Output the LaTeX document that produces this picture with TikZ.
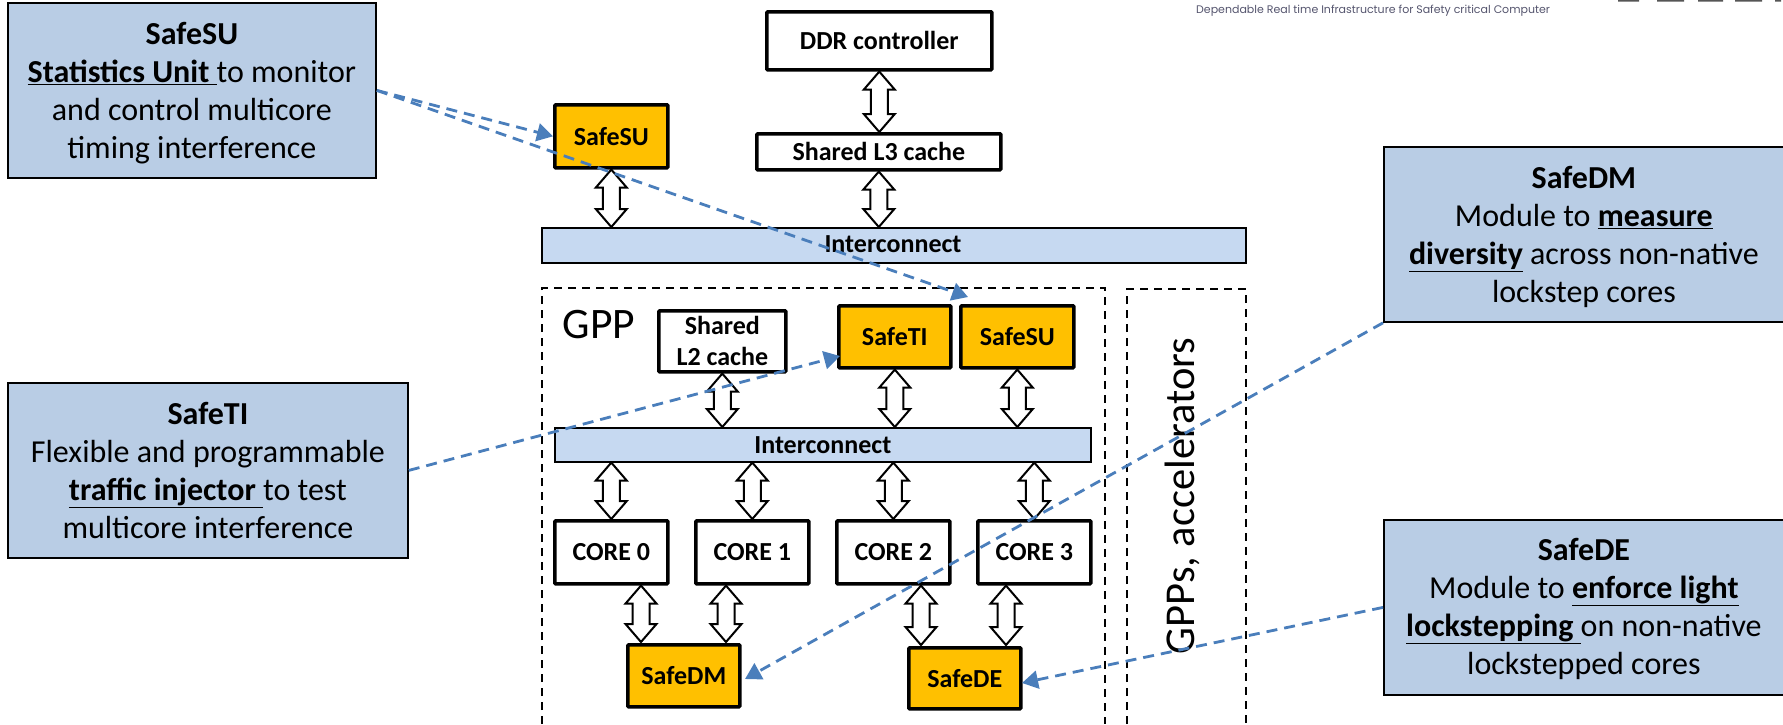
\documentclass[tikz,border=0pt]{standalone}
\usepackage{fontspec}
\setmainfont{Carlito}
\newfontfamily\tinyfont{Poppins}
\usetikzlibrary{arrows.meta,calc}
\definecolor{calloutblue}{HTML}{B9CDE5}
\definecolor{barblue}{HTML}{C6D9F1}
\definecolor{safeyellow}{HTML}{FFC000}
\definecolor{linkblue}{HTML}{4A7EBB}
\definecolor{hdrgray}{HTML}{55556E}
\definecolor{logogray}{HTML}{555555}
\tikzset{
  callout/.style={draw=black,line width=1.8pt,fill=calloutblue,align=center,font=\fontsize{32}{38}\selectfont,inner sep=0pt,anchor=north west},
  hwbox/.style={draw=black,line width=3.6pt,rounded corners=1pt,fill=white,align=center,font=\fontsize{26}{31}\selectfont\bfseries,inner sep=0pt,anchor=north west},
  safebox/.style={hwbox,fill=safeyellow},
  bar/.style={draw=black,line width=1.6pt,fill=barblue,font=\fontsize{26}{28}\selectfont\bfseries,inner sep=0pt,anchor=north west},
  region/.style={draw=black,line width=1.6pt,dash pattern=on 8pt off 6pt},
  dblarrow/.style={draw=black,line width=2pt,fill=white,line join=miter},
  link/.style={draw=linkblue,line width=2.8pt,dash pattern=on 11pt off 7pt,-{Triangle[length=16pt,width=18pt,fill=linkblue]}},
}
\newcommand{\bx}[6]{\node[#1,minimum width=#4pt,minimum height=#5pt] (#2) at (#3) {#6};}
\newcommand{\lift}[1]{\rule{0pt}{#1pt}}
\newcommand{\dbl}[2]{\path[dblarrow] let \p1=(#1),\p2=(#2) in
  (\x1,\y1) -- (\x1+15.5pt,\y1-18pt) -- (\x1+8.5pt,\y1-18pt) -- (\x1+8.5pt,\y2+18pt) -- (\x1+15.5pt,\y2+18pt)
  -- (\x1,\y2) -- (\x1-15.5pt,\y2+18pt) -- (\x1-8.5pt,\y2+18pt) -- (\x1-8.5pt,\y1-18pt) -- (\x1-15.5pt,\y1-18pt) -- cycle;}
\begin{document}
\begin{tikzpicture}[x=1pt,y=-1pt]
\useasboundingbox (0,0) rectangle (1783,724);
% regions
\draw[region] (542,724) -- (542,288) -- (1105,288) -- (1105,724);
\draw[region] (1127,724) -- (1127,289) -- (1246,289) -- (1246,724);
\node[inner sep=0pt,font=\fontsize{43.5}{43.5}\selectfont] (gpp) at (599,325) {GPP};
\node[inner sep=0pt,rotate=90,font=\fontsize{42.5}{42.5}\selectfont] (gpps) at (1182,496) {GPPs, accelerators};
% upper hierarchy
\bx{hwbox}{ddr}{765,10}{225}{58}{DDR controller}
\bx{hwbox}{lthree}{755,132}{244}{36}{Shared L3 cache}
\bx{safebox}{ssua}{553,103}{113}{63}{SafeSU}
\bx{bar}{ica}{541,227}{704}{35}{}
\node[font=\fontsize{26}{28}\selectfont\bfseries,inner sep=0pt] (icalabel) at (893,244) {Interconnect};
% GPP
\bx{hwbox}{ltwo}{657,309}{127}{61}{Shared\\L2 cache}
\bx{safebox}{sti}{837,304}{112}{62}{SafeTI}
\bx{safebox}{ssub}{959,304}{113}{62}{SafeSU}
\bx{bar}{icb}{554,427}{536}{34}{Interconnect}
\bx{hwbox}{corea}{553,519}{113}{63}{CORE 0}
\bx{hwbox}{coreb}{694,519}{113}{63}{CORE 1}
\bx{hwbox}{corec}{835,519}{113}{63}{CORE 2}
\bx{hwbox}{cored}{976,519}{113}{63}{CORE 3}
\bx{safebox}{sdm}{626,643}{112}{62}{SafeDM}
\bx{safebox}{sde}{907,646}{112}{61}{SafeDE}
% ports on the two lockstep units
\coordinate (dma) at (641,642);
\coordinate (dmb) at (726,642);
\coordinate (dea) at (921,645);
\coordinate (deb) at (1006,645);
% double arrows
\dbl{ddr.south}{lthree.north}
\dbl{lthree.south}{lthree.south |- ica.north}
\dbl{ssua.south}{ssua.south |- ica.north}
\dbl{ltwo.south}{ltwo.south |- icb.north}
\dbl{sti.south}{sti.south |- icb.north}
\dbl{ssub.south}{ssub.south |- icb.north}
\dbl{corea.north |- icb.south}{corea.north}
\dbl{coreb.north |- icb.south}{coreb.north}
\dbl{corec.north |- icb.south}{corec.north}
\dbl{cored.north |- icb.south}{cored.north}
\dbl{corea.south -| dma}{dma}
\dbl{coreb.south -| dmb}{dmb}
\dbl{corec.south -| dea}{dea}
\dbl{cored.south -| deb}{deb}
% callouts
\bx{callout}{csu}{7,2}{368}{175}{\lift{27}\textbf{SafeSU}\\\textbf{\underline{Statistics Unit }}to monitor\\and control multicore\\timing interference}
\bx{callout}{cti}{7,382}{400}{175}{\lift{23}\textbf{SafeTI}\\Flexible and programmable\\\textbf{\underline{traffic injector }}to test\\multicore interference}
\bx{callout}{cdm}{1383,146}{400}{175}{\lift{27}\textbf{SafeDM}\\Module to \textbf{\underline{measure}}\\\textbf{\underline{diversity}} across non-native\\lockstep cores}
\bx{callout}{cde}{1383,519}{400}{175}{\lift{25}\textbf{SafeDE}\\Module to \textbf{\underline{enforce light}}\\\textbf{\underline{lockstepping }}on non-native\\lockstepped cores}
% header fragment
\node[inner sep=0pt,anchor=west,text=hdrgray,font=\tinyfont\fontsize{11}{12}\selectfont] (hdr) at (1196,11) {Dependable Real time Infrastructure for Safety critical Computer};
\fill[logogray] (1618,0) rectangle (1639,1.6) (1657,0) rectangle (1684,1.6) (1698,0) rectangle (1723,1.6) (1735,0) rectangle (1762,1.6) (1775,0) rectangle (1781,1.6);
% links
\coordinate (tipsub) at (968,297);
\coordinate (tipti) at (840,356);
\coordinate (tipdm) at (745,679);
\coordinate (tipde) at (1022,683);
\draw[link] (csu.east) -- (ssua.west);
\draw[link] (csu.east) -- (tipsub);
\draw[link] (cti.east) -- (tipti);
\draw[link] (cdm.south west) -- (tipdm);
\draw[link] (cde.west) -- (tipde);
\end{tikzpicture}
\end{document}
